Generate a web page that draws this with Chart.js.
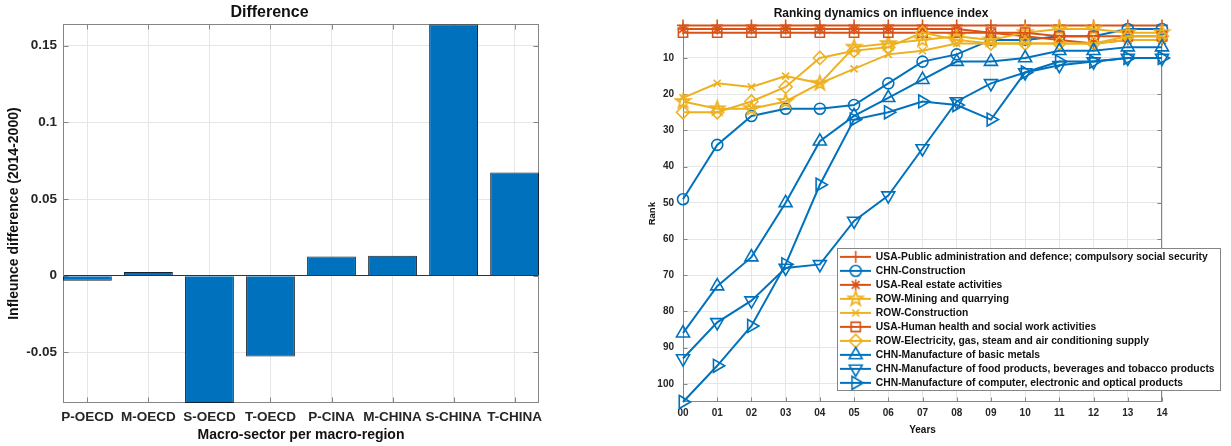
<!DOCTYPE html>
<html>
<head>
<meta charset="utf-8">
<script src="https://cdn.jsdelivr.net/npm/chart.js@4.4.1/dist/chart.umd.min.js"></script>
<style>
  body { margin: 0; background: #fff; width: 1231px; height: 446px; overflow: hidden; position: relative; }
  #leftBox { position: absolute; left: 0; top: 0; width: 560px; height: 446px; }
  #rightBox { position: absolute; left: 600px; top: 0; width: 631px; height: 446px; }
</style>
</head>
<body>
<div id="leftBox"><canvas id="diffChart" width="560" height="446"></canvas></div>
<div id="rightBox"><canvas id="rankChart" width="631" height="446"></canvas></div>
<script>
//Left panel: difference per macro-sector
const sectorLabels = ['P-OECD', 'M-OECD', 'S-OECD', 'T-OECD', 'P-CINA', 'M-CHINA', 'S-CHINA', 'T-CHINA'];
const diffValues = [-0.0033, 0.0025, -0.083, -0.0527, 0.0126, 0.013, 0.164, 0.0673];
const diffTicks = [-0.05, 0, 0.05, 0.1, 0.15];

//Right panel: ranking per year (rank 1 = top)
const yearLabels = ['00', '01', '02', '03', '04', '05', '06', '07', '08', '09', '10', '11', '12', '13', '14'];
const rankTicks = [10, 20, 30, 40, 50, 60, 70, 80, 90, 100];
const usaPublic       = [1, 1, 1, 1, 1, 1, 1, 1, 1, 1, 1, 1, 1, 1, 1];
const chnConstruction = [49, 34, 26, 24, 24, 23, 17, 11, 9, 5, 5, 4, 4, 2, 2];
const usaRealEstate   = [2, 2, 2, 2, 2, 2, 2, 2, 2, 3, 4, 5, 6, 5, 5];
const rowMining       = [22, 24, 24, 22, 17, 7, 6, 5, 4, 5, 3, 2, 2, 3, 3];
const rowConstruction = [21, 17, 18, 15, 17, 13, 9, 8, 6, 6, 6, 6, 6, 5, 5];
const usaHealth       = [3, 3, 3, 3, 3, 3, 3, 3, 3, 3, 3, 4, 4, 4, 4];
const rowElectricity  = [25, 25, 22, 18, 10, 8, 7, 3, 5, 6, 6, 6, 6, 4, 4];
const chnMetals       = [86, 73, 65, 50, 33, 26, 21, 16, 11, 11, 10, 8, 8, 7, 7];
const chnFood         = [93, 83, 77, 68, 67, 55, 48, 35, 22, 17, 14, 12, 11, 10, 10];
const chnComputer     = [105, 95, 84, 67, 45, 27, 25, 22, 23, 27, 14, 11, 11, 10, 10];

const seriesNames = [
    'USA-Public administration and defence; compulsory social security',
    'CHN-Construction',
    'USA-Real estate activities',
    'ROW-Mining and quarrying',
    'ROW-Construction',
    'USA-Human health and social work activities',
    'ROW-Electricity, gas, steam and air conditioning supply',
    'CHN-Manufacture of basic metals',
    'CHN-Manufacture of food products, beverages and tobacco products',
    'CHN-Manufacture of computer, electronic and optical products'
];
const seriesData = [usaPublic, chnConstruction, usaRealEstate, rowMining, rowConstruction,
                    usaHealth, rowElectricity, chnMetals, chnFood, chnComputer];

const BLUE = '#0072BD', RED = '#D95319', YELLOW = '#EDB120';
const TEXT = '#262626', GRID = '#e6e6e6', AXIS = '#858585';

Chart.defaults.font.family = "'Liberation Sans', Arial, Helvetica, sans-serif";
Chart.defaults.font.weight = 'bold';
Chart.defaults.color = TEXT;
Chart.defaults.animation = false;

//MATLAB pentagram marker, drawn once into a small canvas
function makePentagram(color, r){
    const size = Math.ceil(r * 2 + 4);
    const c = document.createElement('canvas');
    c.width = size; c.height = size;
    const g = c.getContext('2d');
    g.beginPath();
    for(let k = 0; k < 10; k++){
        const rr = k % 2 ? r * 0.4 : r;
        const ang = -Math.PI / 2 + k * Math.PI / 5;
        g.lineTo(size / 2 + rr * Math.cos(ang), size / 2 + rr * Math.sin(ang));
    }
    g.closePath();
    g.strokeStyle = color;
    g.lineWidth = 1.8;
    g.stroke();
    return c;
}

//marker styles per series (same order as seriesNames)
const seriesStyles = [
    {color: RED,    point: 'cross',     radius: 6, rot: 0},
    {color: BLUE,   point: 'circle',    radius: 5.5, rot: 0},
    {color: RED,    point: 'star',      radius: 5.5, rot: 0},
    {color: YELLOW, point: makePentagram(YELLOW, 7.5), radius: 7, rot: 0},
    {color: YELLOW, point: 'crossRot',  radius: 5, rot: 0},
    {color: RED,    point: 'rect',      radius: 6.5, rot: 0},
    {color: YELLOW, point: 'rectRot',   radius: 6.5, rot: 0},
    {color: BLUE,   point: 'triangle',  radius: 7.5, rot: 0},
    {color: BLUE,   point: 'triangle',  radius: 7.5, rot: 180},
    {color: BLUE,   point: 'triangle',  radius: 7.5, rot: 90}
];

//line + marker sample for the legend
function makeLegendSample(st){
    const c = document.createElement('canvas');
    c.width = 31; c.height = 18;
    const g = c.getContext('2d');
    g.strokeStyle = st.color;
    g.lineWidth = 2;
    g.beginPath();
    g.moveTo(0, 9); g.lineTo(31, 9);
    g.stroke();
    if(typeof st.point !== 'string'){
        g.drawImage(st.point, 15.5 - st.point.width / 2, 9 - st.point.height / 2);
    } else {
        g.fillStyle = 'rgba(0,0,0,0)';
        g.lineWidth = 1.6;
        Chart.helpers.drawPoint(g, {pointStyle: st.point, radius: st.radius, rotation: st.rot, borderWidth: 1.6}, 15.5, 9);
    }
    return c;
}

//closed axes box with inward ticks (MATLAB look)
const axesBox = {
    id: 'axesBox',
    beforeDatasetsDraw(chart, args, opts){
        const {ctx, chartArea: a} = chart;
        const xs = chart.scales.x, ys = chart.scales.y;
        const L = Math.round(a.left) + 0.5, R = Math.round(a.right) - 0.5;
        const T = Math.round(a.top) + 0.5, B = Math.round(a.bottom) - 0.5;
        const n = opts.tickLen;
        ctx.save();
        ctx.strokeStyle = AXIS;
        ctx.lineWidth = 1;
        ctx.beginPath();
        xs.ticks.forEach((t, i) => {
            const px = Math.round(xs.getPixelForValue(t.value)) + 0.5;
            ctx.moveTo(px, B); ctx.lineTo(px, B - n);
            ctx.moveTo(px, T); ctx.lineTo(px, T + n);
        });
        ys.ticks.forEach((t, i) => {
            const py = Math.round(ys.getPixelForValue(t.value)) + 0.5;
            ctx.moveTo(L, py); ctx.lineTo(L + n, py);
            ctx.moveTo(R, py); ctx.lineTo(R - n, py);
        });
        ctx.stroke();
        ctx.strokeRect(L, T, R - L, B - T);
        ctx.restore();
    }
};

//legend placed inside the plot, with a white framed box
const legendBox = {
    id: 'legendBox',
    afterLayout(chart, args, opts){
        const lg = chart.legend;
        lg.left = opts.left; lg.top = opts.top;
        lg.right = opts.right; lg.bottom = opts.bottom + 200;
        lg.width = opts.right - opts.left;
        lg.height = opts.bottom - opts.top + 200;
    },
    afterDatasetsDraw(chart, args, opts){
        const ctx = chart.ctx;
        ctx.save();
        ctx.fillStyle = '#fff';
        ctx.fillRect(opts.left, opts.top, opts.right - opts.left, opts.bottom - opts.top);
        ctx.strokeStyle = AXIS;
        ctx.lineWidth = 1;
        ctx.strokeRect(opts.left + 0.5, opts.top + 0.5, opts.right - opts.left, opts.bottom - opts.top);
        ctx.restore();
        chart.legend.draw();
    }
};

function createDiffChart(){
    const ctx = document.getElementById('diffChart').getContext('2d');
    new Chart(ctx, {
        type: 'bar',
        data: {
            datasets: [{
                data: diffValues.map((v, i) => ({x: i + 1, y: v})),
                backgroundColor: BLUE,
                borderColor: '#17222e',
                borderWidth: 1,
                barPercentage: 0.8,
                categoryPercentage: 1
            }]
        },
        options: {
            responsive: false,
            layout: {padding: {left: 0, right: 21, top: 0, bottom: 0}},
            plugins: {
                legend: {display: false},
                tooltip: {enabled: false},
                title: {display: true, text: 'Difference', color: '#111',
                        font: {size: 16, weight: 'bold'}, padding: {top: 3, bottom: 2}},
                axesBox: {tickLen: 5}
            },
            scales: {
                x: {
                    type: 'linear', min: 0.6, max: 8.4, offset: false,
                    afterBuildTicks: s => { s.ticks = sectorLabels.map((c, i) => ({value: i + 1})); },
                    afterFit: s => { s.height = 43; },
                    grid: {color: GRID, drawTicks: false, offset: false},
                    border: {display: false},
                    ticks: {callback: v => sectorLabels[v - 1], autoSkip: false, maxRotation: 0,
                            padding: 6, color: TEXT, font: {size: 13.5, weight: 'bold'}},
                    title: {display: true, text: 'Macro-sector per macro-region', color: '#111',
                            font: {size: 14, weight: 'bold'}, padding: {top: 0, bottom: 2}}
                },
                y: {
                    min: -0.083, max: 0.164,
                    afterBuildTicks: s => { s.ticks = diffTicks.map(v => ({value: v})); },
                    afterFit: s => { s.width = 63; },
                    grid: {color: c => (c.tick && c.tick.value === 0) ? '#333' : GRID, drawTicks: false},
                    border: {display: false},
                    ticks: {callback: v => String(+v.toFixed(2)), padding: 6, color: TEXT,
                            font: {size: 13.5, weight: 'bold'}},
                    title: {display: true, text: 'Infleunce difference (2014-2000)', color: '#111',
                            font: {size: 14, weight: 'bold'}, padding: {top: 6, bottom: 0}}
                }
            }
        },
        plugins: [axesBox]
    });
}

function createRankChart(){
    const ctx = document.getElementById('rankChart').getContext('2d');
    const samples = seriesStyles.map(makeLegendSample);
    const datasets = seriesNames.map((name, i) => ({
        label: name,
        data: seriesData[i],
        borderColor: seriesStyles[i].color,
        backgroundColor: 'rgba(0,0,0,0)',
        borderWidth: 2,
        pointStyle: seriesStyles[i].point,
        pointRadius: seriesStyles[i].radius,
        pointRotation: seriesStyles[i].rot,
        pointBorderWidth: 1.6,
        pointBorderColor: seriesStyles[i].color,
        pointBackgroundColor: 'rgba(0,0,0,0)',
        tension: 0,
        clip: false,
        order: seriesNames.length - i
    }));

    new Chart(ctx, {
        type: 'line',
        data: {labels: yearLabels, datasets: datasets},
        options: {
            responsive: false,
            layout: {padding: {left: 0, right: 69, top: 0, bottom: 0}},
            plugins: {
                tooltip: {enabled: false},
                title: {display: true, text: 'Ranking dynamics on influence index', color: '#111',
                        font: {size: 12, weight: 'bold'}, padding: {top: 6, bottom: 5}},
                legend: {
                    position: 'chartArea',
                    align: 'start',
                    labels: {
                        usePointStyle: true, pointStyleWidth: 30, boxHeight: 10, padding: 3.7,
                        color: '#111', font: {size: 10.3, weight: 'bold'},
                        generateLabels: chart => chart.data.datasets.map((ds, i) => ({
                            text: ds.label, pointStyle: samples[i], fillStyle: 'rgba(0,0,0,0)',
                            fontColor: '#111', textAlign: 'left',
                            strokeStyle: ds.borderColor, lineWidth: 0, hidden: false, datasetIndex: i
                        }))
                    }
                },
                legendBox: {left: 237, top: 248, right: 620, bottom: 390},
                axesBox: {tickLen: 4}
            },
            scales: {
                x: {
                    offset: false,
                    afterFit: s => { s.height = 44; },
                    grid: {color: GRID, drawTicks: false},
                    border: {display: false},
                    ticks: {autoSkip: false, maxRotation: 0, padding: 5, color: TEXT,
                            font: {size: 10, weight: 'bold'}},
                    title: {display: true, text: 'Years', color: '#111',
                            font: {size: 10, weight: 'bold'}, padding: {top: 0, bottom: 10}}
                },
                y: {
                    reverse: true, min: 1, max: 105,
                    afterBuildTicks: s => { s.ticks = rankTicks.map(v => ({value: v})); },
                    afterFit: s => { s.width = 83; },
                    grid: {color: GRID, drawTicks: false},
                    border: {display: false},
                    ticks: {padding: 9, color: TEXT, font: {size: 10, weight: 'bold'}},
                    title: {display: true, text: 'Rank', color: '#111',
                            font: {size: 9.5, weight: 'bold'}, padding: {top: 47, bottom: 0}}
                }
            }
        },
        plugins: [axesBox, legendBox]
    });
}

createDiffChart();
createRankChart();
</script>
</body>
</html>
